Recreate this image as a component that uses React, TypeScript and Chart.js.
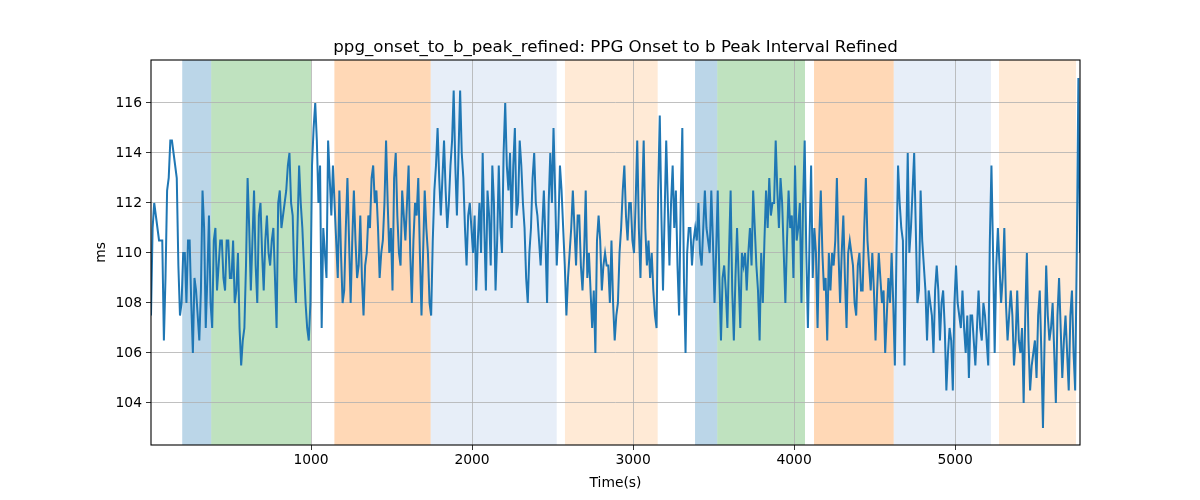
import { useEffect, useRef } from "react"
import { Chart, registerables } from "chart.js"

Chart.register(...registerables)

const TITLE = "ppg_onset_to_b_peak_refined: PPG Onset to b Peak Interval Refined"
const X_LABEL = "Time(s)"
const Y_LABEL = "ms"

// sample times start at T_START and step by T_STEP seconds
const T_START = 6
const T_STEP = 10

const onsetToBPeak = [
  107.5, 111, 112, 111.5, 111, 110.5, 110.5, 110.5, 106.5, 109, 112.5, 113, 114.5, 114.5, 114, 113.5, 113, 109.5, 107.5, 108,
  110, 110, 108, 110.5, 110.5, 108, 106, 109, 108.5, 107.5, 106.5, 108.5, 112.5, 111, 107, 109, 111.5, 108, 107, 110.5,
  111, 108.5, 109.5, 110.5, 110.5, 109, 108.5, 110.5, 110.5, 109, 109, 110.5, 108, 108.5, 110, 107, 105.5, 106.5, 107, 109.5,
  113, 111, 108.5, 110.5, 112.5, 109.5, 108, 111.5, 112, 110, 108.5, 110.5, 111.5, 110, 109.5, 110.5, 111, 109, 107, 112,
  112.5, 111, 111.5, 112, 112.5, 113.5, 114, 112, 111.5, 109, 108, 111, 113.5, 112, 111, 109.5, 108, 107, 106.5, 108,
  113.5, 115, 116, 114.5, 112, 113.5, 107, 111, 110, 109, 114.5, 113, 111.5, 113.5, 112, 110.5, 109, 112.5, 110, 108,
  108.5, 111, 113, 110.5, 108, 110.5, 112.5, 110.5, 109, 109.5, 111.5, 109, 107.5, 109.5, 110, 111.5, 111, 113, 113.5, 112,
  112.5, 111, 109, 110, 110.5, 112, 114.5, 112, 110, 111, 108.5, 113, 114, 111.5, 110, 109.5, 112.5, 111.5, 110.5, 112,
  113.5, 110, 108, 110.5, 112, 111.5, 113, 110, 107.5, 110, 112.5, 111, 110, 108, 107.5, 110.5, 112.5, 113.5, 115, 113,
  111.5, 113, 114.5, 112.5, 111, 112, 113.5, 114.5, 116.5, 113.5, 111.5, 114, 116.5, 114, 113, 111, 109.5, 111.5, 112, 111,
  110, 111.5, 108.5, 110.5, 112, 110, 114, 111, 108.5, 112.5, 111.5, 109.5, 113.5, 112, 108.5, 110.5, 113.5, 111, 110, 114,
  116, 113.5, 112.5, 114, 111, 113.5, 115, 111.5, 112, 114.5, 113.5, 112, 111, 109, 108, 110, 111, 113, 114, 112,
  111.5, 110.5, 109.5, 111, 112.5, 110.5, 108, 112, 114, 112, 115, 112.5, 109.5, 111, 113.5, 112.5, 111, 109.5, 107.5, 109,
  110, 111, 112.5, 111, 109.5, 111.5, 111.5, 109.5, 108.5, 110, 112.5, 109, 110, 108.5, 107, 108.5, 106, 110.5, 111.5, 110.5,
  108.5, 109.5, 110, 109.5, 109.5, 108, 110.5, 108, 106.5, 107.5, 108, 110, 111, 112.5, 113.5, 111.5, 110.5, 112, 112, 110.5,
  110, 112, 114.5, 111, 109, 112, 114.5, 111, 109.5, 110.5, 109, 110, 108.5, 107.5, 107, 112.5, 115.5, 111.5, 108.5, 111.5,
  114.5, 112, 109.5, 112, 113.5, 111, 112.5, 109.5, 107.5, 112, 115, 109, 106, 110, 111, 111, 109.5, 110.5, 111, 110.5,
  112, 110, 109.5, 111, 112.5, 111, 110.5, 110, 112.5, 110.5, 108, 110, 112.5, 109, 106.5, 109, 109.5, 108.5, 107, 110,
  112.5, 108.5, 106.5, 109, 111, 109, 107, 110, 109.5, 110, 108.5, 110, 111, 109.5, 112.5, 111, 109.5, 108.5, 106.5, 110,
  108, 110.5, 112.5, 111, 113, 111.5, 112, 112, 114.5, 112.5, 111, 113, 112, 110, 108, 110.5, 112.5, 111, 111.5, 109,
  113.5, 110.5, 111, 112, 108, 112, 114.5, 110, 107, 110.5, 113.5, 109, 111, 110, 107, 110.5, 112.5, 110, 108.5, 109,
  106.5, 110, 108.5, 110, 109.5, 110.5, 113, 110, 108, 110, 111.5, 109, 107, 110, 110.5, 110, 109.5, 108, 107.5, 109.5,
  110, 108.5, 108.5, 111, 113, 110.5, 109.5, 108.5, 110, 108.5, 106.5, 108.5, 110, 109, 108, 108.5, 106, 107.5, 109, 108,
  110, 108, 105.5, 110, 113.5, 112, 111, 110.5, 105.5, 110, 114, 110, 111, 112.5, 114, 111, 108, 108.5, 112.5, 110.5,
  109.5, 108.5, 106.5, 108.5, 108, 107.5, 106, 108.5, 109.5, 108.5, 106.5, 108, 108.5, 107, 104.5, 106, 107, 106.5, 104.5, 108,
  109.5, 108, 107.5, 107, 108.5, 107, 106, 107.5, 105, 107.5, 107.5, 106.5, 105.5, 107, 108.5, 107, 106.5, 108, 107.5, 106.5,
  105.5, 110.5, 113.5, 110, 106, 109.5, 111, 109.5, 108, 109, 111, 108, 106.5, 107.5, 108.5, 107.5, 105.5, 106.5, 108.5, 106.5,
  106, 107, 104, 107.5, 110, 106.5, 104.5, 105.5, 106, 106.5, 105, 107.5, 108.5, 106, 103, 106.5, 109.5, 107.5, 106.5, 107,
  108, 106, 104, 107.5, 109, 107, 105, 106.5, 107.5, 106, 104.5, 107.5, 108.5, 106, 104.5, 110, 117, 110,
]

// shaded phases along the time axis
const spanStarts = [200, 380, 1145, 1743, 2577, 3385, 3523, 4124, 4619, 5273]
const spanEnds = [380, 1000, 1743, 2526, 3153, 3523, 4068, 4619, 5223, 5751]
const spanKinds = ["a", "b", "c", "d", "e", "a", "b", "c", "d", "e"]

const xTicks = [1000, 2000, 3000, 4000, 5000]
const yTicks = [104, 106, 108, 110, 112, 114, 116]

const spanColors: Record<string, string> = {
  a: "rgba(31, 119, 180, 0.3)",
  b: "rgba(44, 160, 44, 0.3)",
  c: "rgba(255, 127, 14, 0.3)",
  d: "rgba(174, 199, 232, 0.3)",
  e: "rgba(255, 187, 120, 0.3)",
}

const FONT = "'DejaVu Sans', sans-serif"

const decorPlugin = {
  id: "decor",
  beforeDraw(chart: any) {
    const { ctx, chartArea, scales } = chart
    ctx.save()
    spanStarts.forEach((s, i) => {
      const x0 = scales.x.getPixelForValue(s)
      const x1 = scales.x.getPixelForValue(spanEnds[i])
      ctx.fillStyle = spanColors[spanKinds[i]]
      ctx.fillRect(x0, chartArea.top, x1 - x0, chartArea.bottom - chartArea.top)
    })
    ctx.restore()
  },
  afterDraw(chart: any) {
    const { ctx, chartArea } = chart
    ctx.save()
    ctx.strokeStyle = "#000"
    ctx.lineWidth = 1.1
    ctx.strokeRect(chartArea.left, chartArea.top, chartArea.right - chartArea.left, chartArea.bottom - chartArea.top)

    ctx.fillStyle = "#000"
    ctx.textAlign = "center"
    ctx.textBaseline = "alphabetic"
    ctx.font = `16.67px ${FONT}`
    ctx.fillText(TITLE, (chartArea.left + chartArea.right) / 2, chartArea.top - 8)

    ctx.font = `13.89px ${FONT}`
    ctx.fillText(X_LABEL, (chartArea.left + chartArea.right) / 2, 487)

    ctx.translate(105, (chartArea.top + chartArea.bottom) / 2)
    ctx.rotate(-Math.PI / 2)
    ctx.fillText(Y_LABEL, 0, 0)
    ctx.restore()
  },
}

export default function App() {
  const chartRef = useRef<HTMLCanvasElement>(null)
  const chartInstance = useRef<Chart | null>(null)

  useEffect(() => {
    if (!chartRef.current) return
    if (chartInstance.current) chartInstance.current.destroy()
    const ctx = chartRef.current.getContext("2d")
    if (!ctx) return

    const points = onsetToBPeak.map((v, i) => ({ x: T_START + i * T_STEP, y: v }))

    chartInstance.current = new Chart(ctx, {
      type: "line",
      data: {
        datasets: [
          {
            label: "ppg_onset_to_b_peak_refined",
            data: points,
            borderColor: "#1f77b4",
            borderWidth: 2,
            pointRadius: 0,
            tension: 0,
          },
        ],
      },
      options: {
        responsive: false,
        animation: false,
        devicePixelRatio: 1,
        layout: { padding: { top: 60, right: 120, bottom: 0, left: 0 } },
        scales: {
          x: {
            type: "linear",
            min: 6,
            max: 5776,
            afterBuildTicks: (s: any) => {
              s.ticks = xTicks.map(v => ({ value: v }))
            },
            afterFit: (s: any) => {
              s.height = 55
            },
            border: { display: false },
            grid: { color: "#b0b0b0", lineWidth: 0.8, tickColor: "#000", tickLength: 5 },
            ticks: {
              color: "#000",
              font: { family: FONT, size: 13.89 },
              padding: 2,
              maxRotation: 0,
              callback: (v: any) => String(v),
            },
          },
          y: {
            min: 102.32,
            max: 117.72,
            afterBuildTicks: (s: any) => {
              s.ticks = yTicks.map(v => ({ value: v }))
            },
            afterFit: (s: any) => {
              s.width = 151
            },
            border: { display: false },
            grid: { color: "#b0b0b0", lineWidth: 0.8, tickColor: "#000", tickLength: 5 },
            ticks: {
              color: "#000",
              font: { family: FONT, size: 13.89 },
              padding: 4,
              callback: (v: any) => String(v),
            },
          },
        },
        plugins: {
          legend: { display: false },
          tooltip: { enabled: false },
        },
      },
      plugins: [decorPlugin],
    })

    return () => {
      if (chartInstance.current) {
        chartInstance.current.destroy()
        chartInstance.current = null
      }
    }
  }, [])

  return (
    <div style={{ position: "absolute", left: 0, top: 0, width: 1200, height: 500, background: "#fff" }}>
      <canvas ref={chartRef} width={1200} height={500} />
    </div>
  )
}
